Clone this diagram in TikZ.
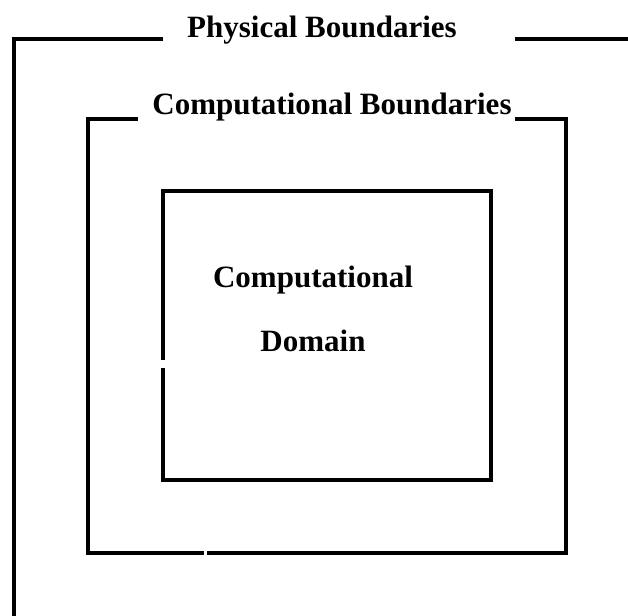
\documentclass[tikz,border=0pt]{standalone}
\usepackage{fontspec}
\setmainfont{Liberation Serif}
\begin{document}
\begin{tikzpicture}[x=1pt,y=-1pt,
  bnd/.style={line width=3.5pt,line cap=rect,line join=miter,black},
  lbl/.style={font=\fontsize{31}{36}\selectfont\bfseries,anchor=base,inner sep=0pt}]
\useasboundingbox (0,0) rectangle (628,615);
% labels
\node[lbl] (phys) at (322,38) {Physical Boundaries};
\node[lbl] (compb) at (332,114) {Computational Boundaries};
\node[lbl] (cd1) at (313,287) {Computational};
\node[lbl] (cd2) at (313,351) {Domain};
% outer (physical) boundary
\draw[bnd] (161,39) -- (14,39) -- (14,620);
\draw[bnd] (517,39) -- (630,39);
% middle (computational) boundary
\draw[bnd] (136,119) -- (88,119) -- (88,553) -- (202,553);
\draw[bnd] (209,553) -- (566,553) -- (566,119) -- (517,119);
% inner (computational domain)
\draw[bnd] (163,358) -- (163,191) -- (491,191) -- (491,480) -- (163,480) -- (163,370);
\end{tikzpicture}
\end{document}
